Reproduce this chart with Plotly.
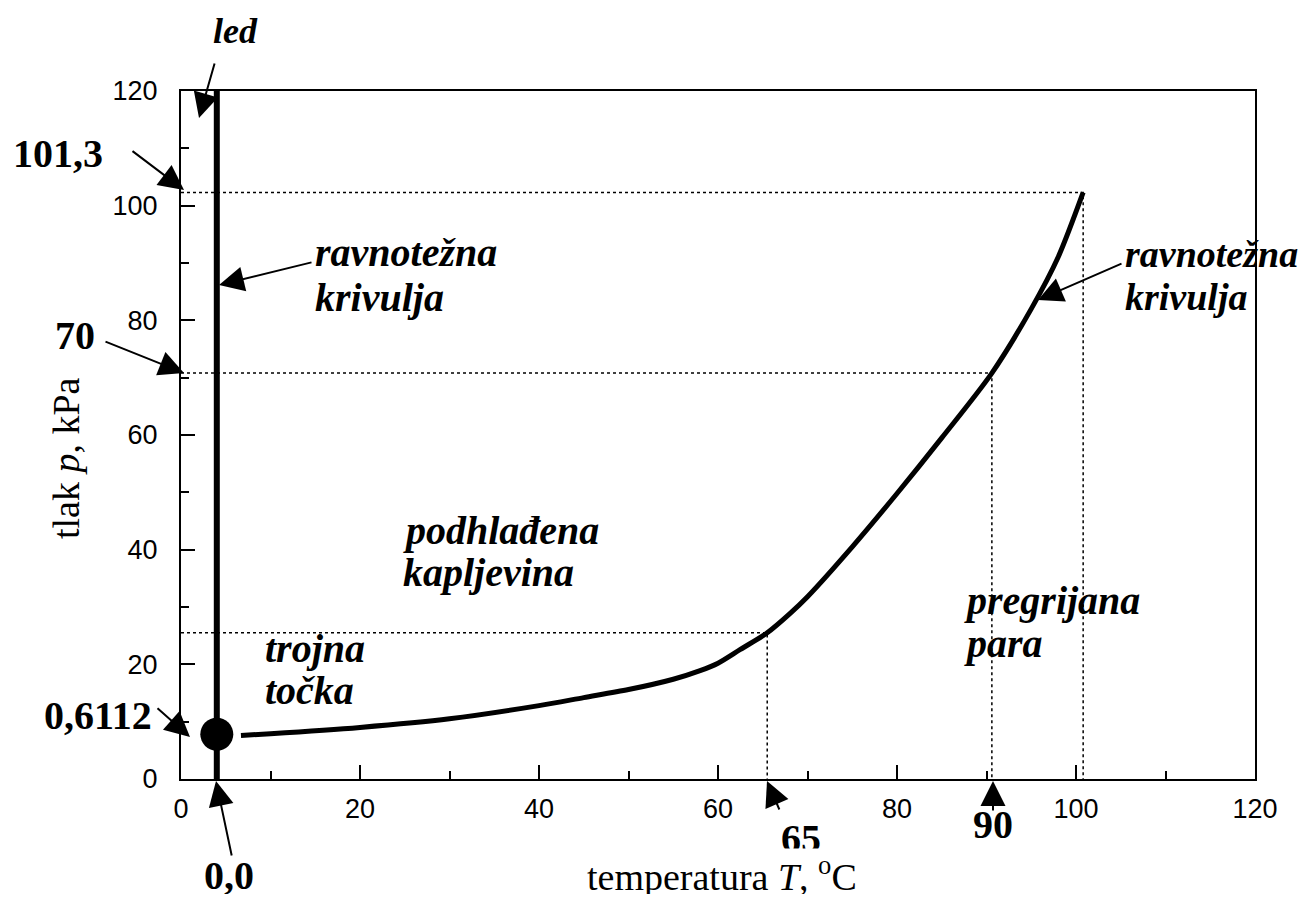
import plotly.graph_objects as go

# ---- data ----
T_curve = [6.7, 10, 20, 30, 40, 45, 50, 55, 58, 60, 62.5, 65.5, 68, 70, 75, 80, 85, 90.6, 95, 98, 100.8]
p_curve = [7.6, 7.9, 9.0, 10.5, 12.8, 14.2, 15.6, 17.4, 18.9, 20.2, 22.6, 25.5, 28.8, 31.8, 40.5, 49.8, 59.5, 70.8, 82.0, 91.0, 102.3]

T_ice = [4.0, 4.0]
p_ice = [0, 120]

T_triple = [4.0]
p_triple = [7.8]

# reference (dotted) points on the curve
ref_T = [65.5, 90.6, 100.8]
ref_p = [25.5, 70.8, 102.3]

x_ticks = [0, 20, 40, 60, 80, 100, 120]
y_ticks = [0, 20, 40, 60, 80, 100, 120]

# ---- geometry (page pixels of the plot area) ----
OFF = 8                      # page body margin
L, R, TOP, BOT = 181, 1255, 91, 779
W, H = 1310 - 2 * OFF, 902 - 2 * OFF

def px(x):
    return (x - L) / (R - L)
def py(y):
    return (BOT - y) / (BOT - TOP)

fig = go.Figure()

for t, p in zip(ref_T, ref_p):
    fig.add_trace(go.Scatter(x=[0, t, t], y=[p, p, 0], mode="lines",
                             line=dict(color="black", width=1.5, dash="dot"),
                             hoverinfo="skip", showlegend=False))

fig.add_trace(go.Scatter(x=T_ice, y=p_ice, mode="lines",
                         line=dict(color="black", width=6), showlegend=False))
fig.add_trace(go.Scatter(x=T_curve, y=p_curve, mode="lines",
                         line=dict(color="black", width=5, shape="spline", smoothing=0.8),
                         showlegend=False))
fig.add_trace(go.Scatter(x=T_triple, y=p_triple, mode="markers",
                         marker=dict(color="black", size=33),
                         cliponaxis=False, showlegend=False))

serif = "Liberation Serif, Times New Roman, serif"
sans = "Liberation Sans, Arial, sans-serif"

ann = []

def label(text, x, y, size=40, italic=True, xanchor="left", yanchor="middle"):
    t = f"<b><i>{text}</i></b>" if italic else f"<b>{text}</b>"
    ann.append(dict(text=t, x=px(x), y=py(y), xref="paper", yref="paper",
                    xanchor=xanchor, yanchor=yanchor, showarrow=False,
                    font=dict(family=serif, size=size, color="black")))

def arrow(tail, tip):
    ann.append(dict(text="", x=px(tip[0]), y=py(tip[1]), xref="paper", yref="paper",
                    ax=tail[0] - tip[0], ay=tail[1] - tip[1],
                    showarrow=True, arrowhead=2, arrowsize=2.5, arrowwidth=2,
                    arrowcolor="black", standoff=0))

label("led", 235, 9, size=36, xanchor="center", yanchor="top")
label("ravnotežna", 313, 253)
label("krivulja", 313, 297)
label("ravnotežna", 1123, 254, size=38)
label("krivulja", 1123, 297, size=38)
label("podhlađena", 401, 530)
label("kapljevina", 401, 572)
label("trojna", 263, 648)
label("točka", 263, 690)
label("pregrijana", 962, 600)
label("para", 962, 643)

label("101,3", 58, 153, italic=False, xanchor="center")
label("70", 75, 335, italic=False, xanchor="center")
label("0,6112", 98, 715, italic=False, xanchor="center")
label("0,0", 229, 875, italic=False, xanchor="center")
label("65", 801, 838, italic=False, xanchor="center")
label("90", 993, 825, italic=False, xanchor="center")

arrow((215, 62), (199, 118))
arrow((131, 150), (184, 190))
arrow((104, 341), (184, 373))
arrow((156, 707), (190, 737))
arrow((232, 857), (216, 781))
arrow((780, 811), (767, 781))
arrow((993, 812), (993, 781))
arrow((313, 262), (219, 285))
arrow((1123, 263), (1038, 300))

ann.append(dict(text="temperatura <i>T</i>, <sup>o</sup>C", x=px(722), y=py(874),
                xref="paper", yref="paper", xanchor="center", yanchor="middle",
                showarrow=False, bgcolor="white",
                font=dict(family=serif, size=38, color="black")))
ann.append(dict(text="tlak <i>p</i>, kPa", x=px(66), y=py(458), textangle=-90,
                xref="paper", yref="paper", xanchor="center", yanchor="middle",
                showarrow=False,
                font=dict(family=serif, size=38, color="black")))

axis_common = dict(range=[0, 120], showline=True, linecolor="black", linewidth=2,
                   mirror=True, ticks="inside", ticklen=14, tickwidth=2, tickcolor="black",
                   showgrid=False, zeroline=False,
                   tickfont=dict(family=sans, size=27, color="black"),
                   minor=dict(ticks="inside", ticklen=8, tickwidth=2, tickcolor="black",
                              dtick=10, showgrid=False))

fig.update_layout(
    width=W, height=H,
    margin=dict(l=L - OFF, r=W + OFF - R, t=TOP - OFF, b=H + OFF - BOT),
    plot_bgcolor="white", paper_bgcolor="white",
    xaxis=dict(**axis_common, tickvals=x_ticks, ticklabelstandoff=5),
    yaxis=dict(**axis_common, tickvals=y_ticks, ticklabelstandoff=16),
    annotations=ann,
    showlegend=False,
)

fig.write_html("out.html")
